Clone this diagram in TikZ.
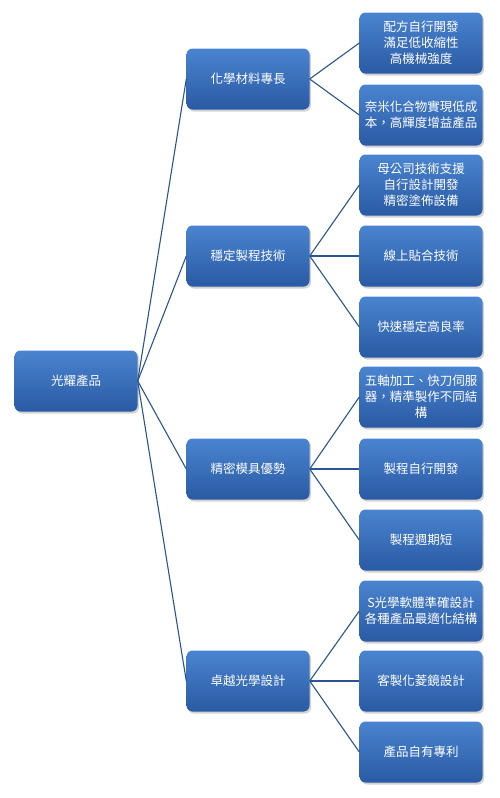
\documentclass[tikz,border=0pt]{standalone}
\usepackage{fontspec}
\usepackage{xcolor}
\usetikzlibrary{shadows}
\newfontfamily\cjk{Noto Sans CJK TC}
\definecolor{boxtop}{HTML}{4A84D0}
\definecolor{boxbottom}{HTML}{2A5AA4}
\definecolor{linkblue}{HTML}{2A5590}

\begin{document}
\begin{tikzpicture}[
  x=1pt,
  y=-1pt,
  every node/.style={font=\cjk\fontsize{12.5}{16}\selectfont, white, inner sep=1pt},
  card/.style={rounded corners=6pt, top color=boxtop, bottom color=boxbottom,
    minimum width=123pt, minimum height=61pt, align=center,
    drop shadow={opacity=0.35, shadow xshift=1.5pt, shadow yshift=-2pt}},
  link/.style={linkblue, line width=1.1pt}
]
  \useasboundingbox (0,0) rectangle (500,798);

  % ---- the root ----------------------------------------------------------
  \node[card] (glory) at (76,381) {光耀產品};

  % ---- the four strengths ------------------------------------------------
  \node[card] (chem)  at (248,79)  {化學材料專長};
  \node[card] (proc)  at (248,256) {穩定製程技術};
  \node[card] (mold)  at (248,469) {精密模具優勢};
  \node[card] (optic) at (248,681) {卓越光學設計};

  % ---- what each strength rests on ---------------------------------------
  \node[card] (chemA)  at (421,43)  {配方自行開發\\滿足低收縮性\\高機械強度};
  \node[card] (chemB)  at (421,115) {奈米化合物實現低成\\本，高輝度增益產品};
  \node[card] (procA)  at (421,185) {母公司技術支援\\自行設計開發\\精密塗佈設備};
  \node[card] (procB)  at (421,256) {線上貼合技術};
  \node[card] (procC)  at (421,327) {快速穩定高良率};
  \node[card] (moldA)  at (421,397) {五軸加工、快刀伺服\\器，精準製作不同結\\構};
  \node[card] (moldB)  at (421,469) {製程自行開發};
  \node[card] (moldC)  at (421,540) {製程週期短};
  \node[card] (opticA) at (421,611) {S光學軟體準確設計\\各種產品最適化結構};
  \node[card] (opticB) at (421,681) {客製化菱鏡設計};
  \node[card] (opticC) at (421,752) {產品自有專利};

  % ---- connectors --------------------------------------------------------
  \foreach \mid in {chem,proc,mold,optic}
    \draw[link] (glory.east) -- (\mid.west);
  \foreach \leaf in {chemA,chemB}
    \draw[link] (chem.east) -- (\leaf.west);
  \foreach \leaf in {procA,procB,procC}
    \draw[link] (proc.east) -- (\leaf.west);
  \foreach \leaf in {moldA,moldB,moldC}
    \draw[link] (mold.east) -- (\leaf.west);
  \foreach \leaf in {opticA,opticB,opticC}
    \draw[link] (optic.east) -- (\leaf.west);
\end{tikzpicture}
\end{document}
